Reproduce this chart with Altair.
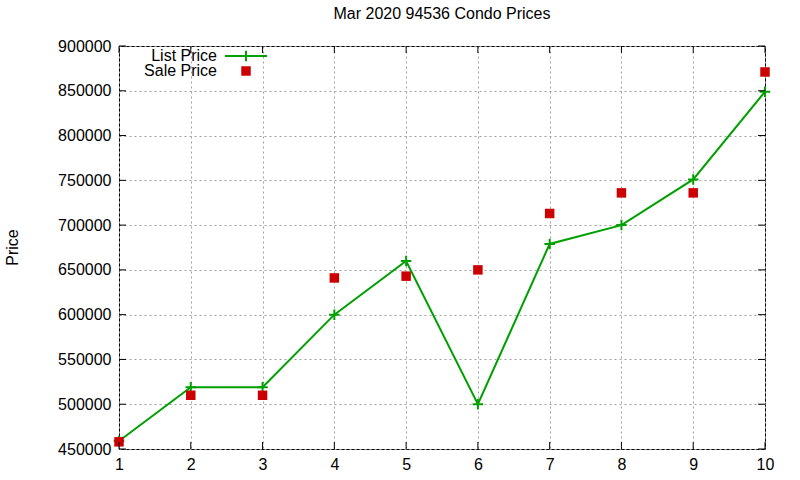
import altair as alt
import pandas as pd

# Data
months_idx = [1, 2, 3, 4, 5, 6, 7, 8, 9, 10]
list_price = [459000, 519000, 519000, 600000, 660000, 500000, 679000, 700000, 751000, 849000]
sale_price = [458000, 510000, 510000, 641000, 643000, 650000, 713000, 736000, 736000, 871000]
x_ticks = [1, 2, 3, 4, 5, 6, 7, 8, 9, 10]
y_ticks = [450000, 500000, 550000, 600000, 650000, 700000, 750000, 800000, 850000, 900000]

W, H = 646, 403
FONT = "Liberation Sans"
GREEN = "#00a000"
RED = "#cc0000"
PLUS = "M-1,0L1,0M0,-1L0,1"

df = pd.DataFrame({"x": months_idx, "list": list_price, "sale": sale_price})
xt = pd.DataFrame({"t": x_ticks})
yt = pd.DataFrame({"t": y_ticks})

xscale = alt.Scale(domain=[1, 10], nice=False, zero=False)
yscale = alt.Scale(domain=[450000, 900000], nice=False, zero=False)

xaxis = alt.Axis(values=x_ticks, format="d", title=None, grid=True,
                 gridColor="#a0a0a0", gridDash=[2, 3], gridWidth=1,
                 ticks=False, labelPadding=7, labelFontSize=16, labelFont=FONT,
                 labelColor="black", domain=False, labelFlush=False)
yaxis = alt.Axis(values=y_ticks, format="d", title="Price", grid=True,
                 gridColor="#a0a0a0", gridDash=[2, 3], gridWidth=1,
                 ticks=False, labelPadding=8, labelFontSize=16, labelFont=FONT,
                 labelColor="black", domain=False, labelFlush=False,
                 titleFont=FONT, titleFontSize=16, titleFontWeight="normal",
                 titleColor="black", titleX=-107, titleY=201, titleAngle=270,
                 titleAlign="center", titleBaseline="middle")

base = alt.Chart(df)

line = base.mark_line(color=GREEN, strokeWidth=2).encode(
    x=alt.X("x:Q", scale=xscale, axis=xaxis),
    y=alt.Y("list:Q", scale=yscale, axis=yaxis),
)
plus = base.mark_point(shape=PLUS, size=110, color=GREEN, strokeWidth=2, filled=False, opacity=1).encode(
    x=alt.X("x:Q", scale=xscale),
    y=alt.Y("list:Q", scale=yscale),
)
squares = base.mark_square(size=90, color=RED, opacity=1).encode(
    x=alt.X("x:Q", scale=xscale),
    y=alt.Y("sale:Q", scale=yscale),
)

# inward ticks
yt_left = alt.Chart(yt).mark_rule(color="black", strokeWidth=1).encode(
    y=alt.Y("t:Q", scale=yscale), x=alt.value(0), x2=alt.value(7))
yt_right = alt.Chart(yt).mark_rule(color="black", strokeWidth=1).encode(
    y=alt.Y("t:Q", scale=yscale), x=alt.value(W - 7), x2=alt.value(W))
xt_bottom = alt.Chart(xt).mark_rule(color="black", strokeWidth=1).encode(
    x=alt.X("t:Q", scale=xscale), y=alt.value(H - 7), y2=alt.value(H))
xt_top = alt.Chart(xt).mark_rule(color="black", strokeWidth=1).encode(
    x=alt.X("t:Q", scale=xscale), y=alt.value(0), y2=alt.value(7))

# legend (manual, gnuplot style)
one = alt.Chart(pd.DataFrame({"k": [0]}))
leg_text1 = one.mark_text(align="right", baseline="middle", font=FONT, fontSize=16, color="black").encode(
    x=alt.value(98), y=alt.value(10), text=alt.value("List Price"))
leg_text2 = one.mark_text(align="right", baseline="middle", font=FONT, fontSize=16, color="black").encode(
    x=alt.value(98), y=alt.value(25), text=alt.value("Sale Price"))
leg_line = one.mark_rule(color=GREEN, strokeWidth=2).encode(
    x=alt.value(106), x2=alt.value(148), y=alt.value(10))
leg_plus = one.mark_point(shape=PLUS, size=110, color=GREEN, strokeWidth=2, filled=False, opacity=1).encode(
    x=alt.value(127), y=alt.value(10))
leg_sq = one.mark_square(size=90, color=RED, opacity=1).encode(
    x=alt.value(127), y=alt.value(25))

chart = alt.layer(
    line, plus, squares, yt_left, yt_right, xt_bottom, xt_top,
    leg_text1, leg_text2, leg_line, leg_plus, leg_sq,
).properties(
    width=W, height=H,
    title=alt.TitleParams("Mar 2020 94536 Condo Prices", font=FONT, fontSize=16,
                          fontWeight="normal", color="black", anchor="middle",
                          offset=16),
    autosize=alt.AutoSizeParams(type="none"),
    padding={"left": 119, "top": 46, "right": 35, "bottom": 31},
    background="white",
).configure_view(stroke="black", strokeWidth=1)

chart.save("out.html", embed_options={"renderer": "svg", "actions": False})
